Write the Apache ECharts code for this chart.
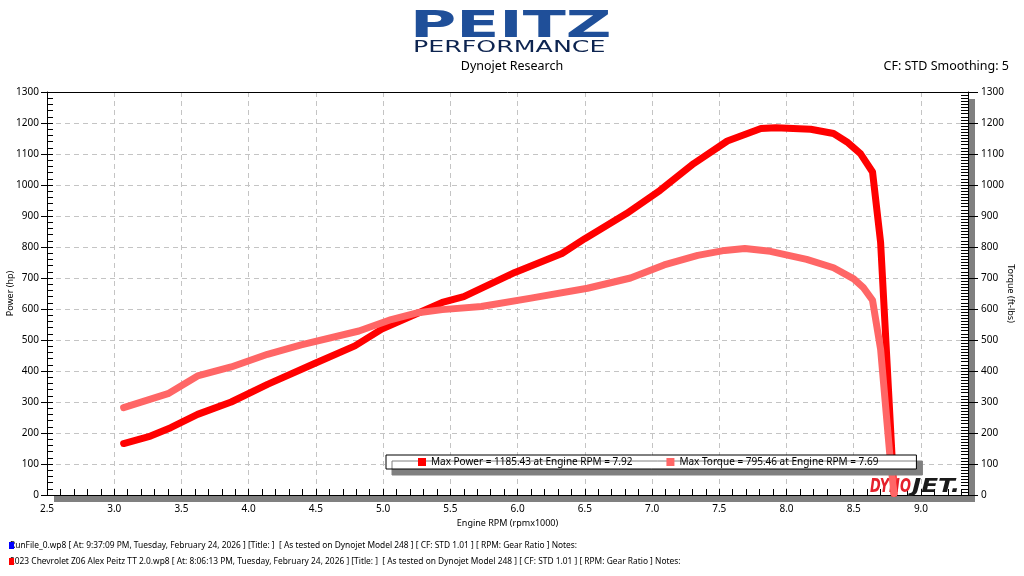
<!DOCTYPE html>
<html>
<head>
<meta charset="utf-8">
<script src="https://cdn.jsdelivr.net/npm/echarts@6/dist/echarts.min.js"></script>
<style>
  html, body { margin: 0; padding: 0; background: #fff; }
  #main { width: 1024px; height: 576px; }
</style>
</head>
<body>
<div id="main"></div>
<script>
// engine rpm (x1000) and readings, taken off the dyno sheet
const powerRpm = [3.07, 3.27, 3.42, 3.62, 3.87, 4.14, 4.49, 4.79, 4.99, 5.24, 5.44, 5.60, 5.98, 6.33, 6.50, 6.81, 7.06, 7.31, 7.56, 7.81, 7.92, 8.18, 8.35, 8.45, 8.55, 8.64, 8.70, 8.80];
const powerHp = [166, 190, 217, 260, 300, 357, 424, 481, 535, 583, 621, 640, 718, 779, 827, 908, 983, 1069, 1142, 1182, 1185, 1180, 1166, 1139, 1101, 1042, 815, 5];

const torqueRpm = [3.07, 3.40, 3.62, 3.87, 4.14, 4.39, 4.82, 5.06, 5.26, 5.44, 5.73, 6.10, 6.52, 6.84, 7.09, 7.34, 7.54, 7.69, 7.88, 8.15, 8.35, 8.50, 8.57, 8.64, 8.70, 8.77, 8.80];
const torqueLbFt = [282, 327, 384, 413, 454, 484, 529, 566, 588, 598, 608, 635, 667, 700, 742, 773, 789, 795, 786, 760, 733, 697, 670, 628, 470, 123, 5];

const rpmMin = 2.5, rpmMax = 9.35;
const yMin = 0, yMax = 1300;

const legendText = {
  Power: 'Max Power = 1185.43 at Engine RPM = 7.92',
  Torque: 'Max Torque = 795.46 at Engine RPM = 7.69'
};

const runFiles = [
  'RunFile_0.wp8 [ At: 9:37:09 PM, Tuesday, February 24, 2026 ] [Title: ]  [ As tested on Dynojet Model 248 ] [ CF: STD 1.01 ] [ RPM: Gear Ratio ] Notes:',
  '2023 Chevrolet Z06 Alex Peitz TT 2.0.wp8 [ At: 8:06:13 PM, Tuesday, February 24, 2026 ] [Title: ]  [ As tested on Dynojet Model 248 ] [ CF: STD 1.01 ] [ RPM: Gear Ratio ] Notes:'
];

const FONT = '"Noto Sans", sans-serif';
const dashed = { color: '#c4c4c4', width: 1, type: [5, 4] };
const black = { color: '#000', width: 1 };

const chart = echarts.init(document.getElementById('main'));

const option = {
  animation: false,
  backgroundColor: '#fff',
  grid: {
    left: 47, right: 56, top: 92, bottom: 81,
    outerBoundsMode: 'none',
    containLabel: false,
    show: true,
    backgroundColor: '#fff',
    borderWidth: 0,
    shadowColor: '#808080',
    shadowOffsetX: 7,
    shadowOffsetY: 7,
    shadowBlur: 0
  },
  legend: {
    left: 386, top: 455,
    data: ['Power', 'Torque'],
    icon: 'rect',
    itemWidth: 8, itemHeight: 8, itemGap: 34,
    padding: [2, 38, 2, 32],
    backgroundColor: '#fff',
    borderColor: '#000',
    borderWidth: 1,
    shadowColor: '#808080',
    shadowOffsetX: 6,
    shadowOffsetY: 6,
    shadowBlur: 0,
    selectedMode: false,
    textStyle: { fontFamily: FONT, fontSize: 10, color: '#000' },
    formatter: name => legendText[name]
  },
  xAxis: [
    {
      type: 'value', min: rpmMin, max: rpmMax, interval: 0.5, position: 'bottom',
      name: 'Engine RPM (rpmx1000)', nameLocation: 'middle', nameGap: 24, nameMoveOverlap: false,
      nameTextStyle: { fontFamily: FONT, fontSize: 9, color: '#000' },
      axisLine: { onZero: false, lineStyle: black },
      axisTick: { show: false },
      axisLabel: {
        margin: 9, fontFamily: FONT, fontSize: 10, color: '#000',
        formatter: v => (Math.abs(v * 2 - Math.round(v * 2)) < 1e-6 ? v.toFixed(1) : '')
      },
      splitLine: { show: true, showMinLine: false, showMaxLine: false, lineStyle: dashed }
    },
    {
      // fine 0.1 ticks pointing into the plot
      type: 'value', min: rpmMin, max: rpmMax, interval: 0.1, position: 'bottom',
      axisLine: { show: false, onZero: false },
      axisTick: { show: true, inside: true, length: 6, lineStyle: black },
      axisLabel: { show: false },
      splitLine: { show: false }
    },
    {
      // top frame line
      type: 'value', min: rpmMin, max: rpmMax, position: 'top',
      axisLine: { show: true, onZero: false, lineStyle: black },
      axisTick: { show: false },
      axisLabel: { show: false },
      splitLine: { show: false }
    }
  ],
  yAxis: [
    {
      type: 'value', min: yMin, max: yMax, interval: 100, position: 'left',
      name: 'Power (hp)', nameLocation: 'middle', nameGap: 32, nameMoveOverlap: false,
      nameTextStyle: { fontFamily: FONT, fontSize: 9, color: '#000' },
      axisLine: { show: true, lineStyle: black },
      axisTick: { show: true, inside: false, length: 6, lineStyle: black },
      axisLabel: { margin: 8, fontFamily: FONT, fontSize: 10, color: '#000', formatter: v => String(v) },
      splitLine: { show: true, showMinLine: false, showMaxLine: false, lineStyle: dashed }
    },
    {
      type: 'value', min: yMin, max: yMax, interval: 20, position: 'left',
      axisLine: { show: false },
      axisTick: { show: true, inside: true, length: 6, lineStyle: black },
      axisLabel: { show: false },
      splitLine: { show: false }
    },
    {
      type: 'value', min: yMin, max: yMax, interval: 100, position: 'right',
      name: 'Torque (ft-lbs)', nameLocation: 'middle', nameGap: 38, nameRotate: -90, nameMoveOverlap: false,
      nameTextStyle: { fontFamily: FONT, fontSize: 9, color: '#000' },
      axisLine: { show: true, lineStyle: black },
      axisTick: { show: true, inside: false, length: 10, lineStyle: black },
      axisLabel: { margin: 13, fontFamily: FONT, fontSize: 10, color: '#000', formatter: v => String(v) },
      splitLine: { show: false }
    },
    {
      type: 'value', min: yMin, max: yMax, interval: 10, position: 'right',
      axisLine: { show: false },
      axisTick: { show: true, inside: true, length: 7, lineStyle: black },
      axisLabel: { show: false },
      splitLine: { show: false }
    }
  ],
  series: [
    {
      name: 'Power', type: 'line', xAxisIndex: 0, yAxisIndex: 0,
      data: powerRpm.map((r, i) => [r, powerHp[i]]),
      color: '#ff0000',
      showSymbol: false, symbol: 'none',
      lineStyle: { width: 7, color: '#ff0000', cap: 'round', join: 'round' },
      z: 3
    },
    {
      name: 'Torque', type: 'line', xAxisIndex: 0, yAxisIndex: 2,
      data: torqueRpm.map((r, i) => [r, torqueLbFt[i]]),
      color: '#ff6666',
      showSymbol: false, symbol: 'none',
      lineStyle: { width: 7, color: '#ff6666', cap: 'round', join: 'round' },
      z: 3
    }
  ],
  graphic: [
    // Peitz Performance wordmark
    {
      type: 'text', x: 410, y: 8, scaleX: 1.66, z: 5,
      style: { text: 'PEITZ', font: 'bold 38px "DejaVu Sans"', fill: '#1f4f99', textVerticalAlign: 'top' }
    },
    {
      type: 'text', x: 413, y: 40, scaleX: 1.58, z: 5,
      style: { text: 'PERFORMANCE', font: '16px "DejaVu Sans"', fill: '#0d2450', textVerticalAlign: 'top' }
    },
    {
      type: 'text', x: 512, y: 66, z: 5,
      style: { text: 'Dynojet Research', font: '12.5px "Noto Sans"', fill: '#000', textAlign: 'center', textVerticalAlign: 'middle' }
    },
    {
      type: 'text', x: 1009, y: 66, z: 5,
      style: { text: 'CF: STD Smoothing: 5', font: '12.5px "Noto Sans"', fill: '#000', textAlign: 'right', textVerticalAlign: 'middle' }
    },
    // Dynojet logo in the corner of the plot
    {
      type: 'text', x: 870, y: 497, scaleX: 0.68, z: 1,
      style: { text: 'DYNO', font: 'italic 900 19px "DejaVu Sans"', fill: '#e5202b', textVerticalAlign: 'bottom' }
    },
    {
      type: 'text', x: 912, y: 497, scaleX: 1.3, z: 1,
      style: { text: 'JET.', font: 'italic 900 19px "DejaVu Sans"', fill: '#1a1a1a', textVerticalAlign: 'bottom' }
    },
    // run file footer
    {
      type: 'text', x: 10, y: 546, z: 5,
      style: { text: runFiles[0], font: '8.4px "Noto Sans"', fill: '#000', textVerticalAlign: 'middle' }
    },
    {
      type: 'text', x: 10, y: 562, z: 5,
      style: { text: runFiles[1], font: '8.4px "Noto Sans"', fill: '#000', textVerticalAlign: 'middle' }
    },
    { type: 'rect', x: 9, y: 542, z: 6, shape: { width: 5, height: 7 }, style: { fill: '#0000ff' } },
    { type: 'rect', x: 9, y: 558, z: 6, shape: { width: 5, height: 7 }, style: { fill: '#ff0000' } }
  ]
};

chart.setOption(option);
</script>
</body>
</html>
